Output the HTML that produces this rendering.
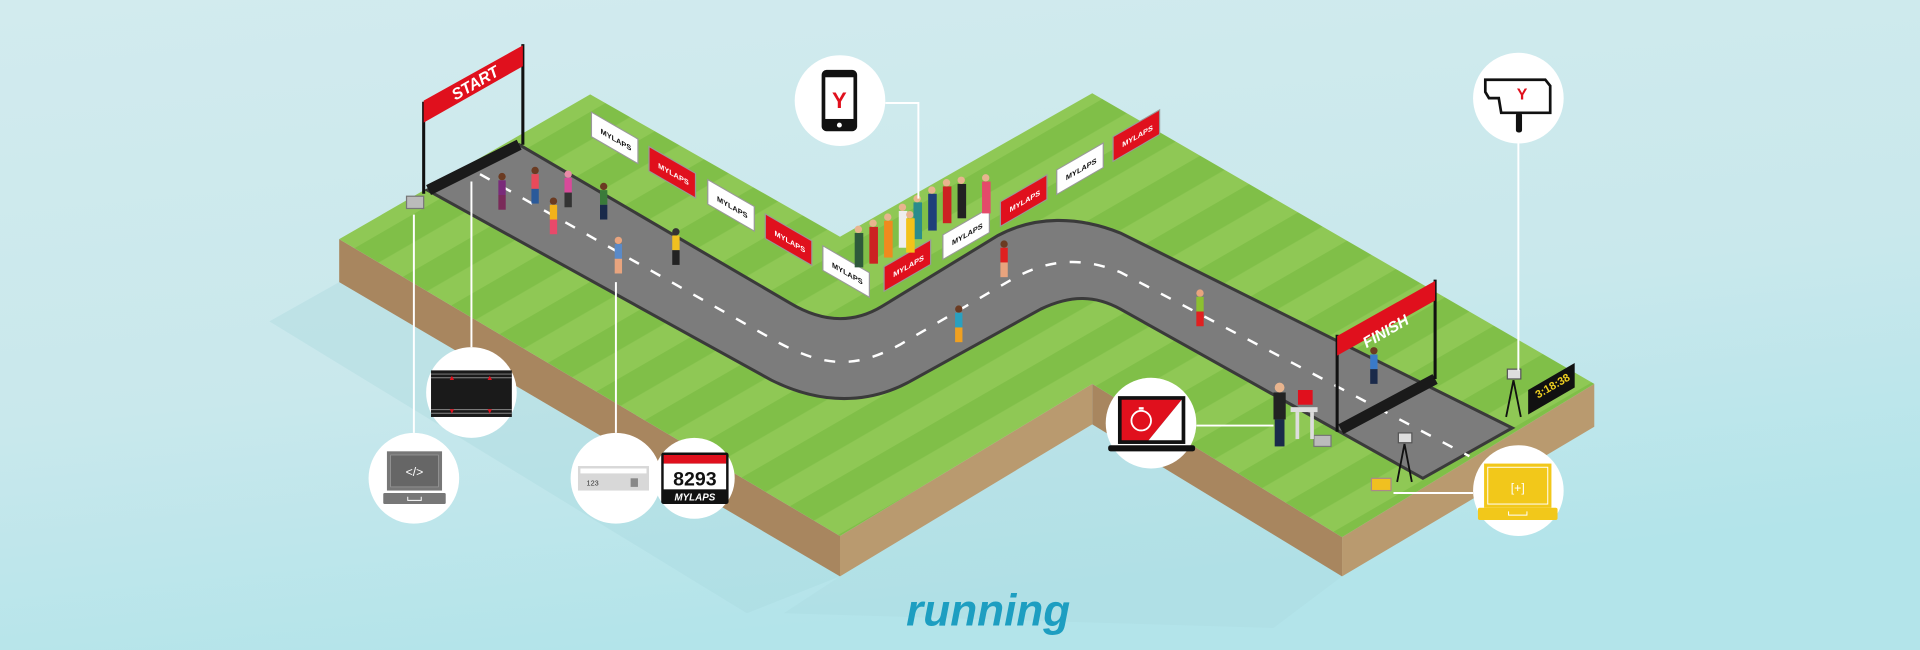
<!DOCTYPE html>
<html><head><meta charset="utf-8"><style>
html,body{margin:0;padding:0;width:1920px;height:650px;overflow:hidden;background:#cde9ec}
svg{display:block}
text{font-family:"Liberation Sans",sans-serif}
</style></head><body>
<svg width="1920" height="650" viewBox="0 0 1568 530" preserveAspectRatio="none" xmlns="http://www.w3.org/2000/svg">
<defs>
<linearGradient id="bg" x1="0" y1="0" x2="0.3" y2="1">
<stop offset="0" stop-color="#d2ebee"/><stop offset="0.6" stop-color="#c9e8ec"/><stop offset="1" stop-color="#b3e4ea"/>
</linearGradient>
<pattern id="grass" patternUnits="userSpaceOnUse" width="40" height="40" patternTransform="rotate(-30)">
<rect width="40" height="40" fill="#8fc855"/><rect width="40" height="20" fill="#80bf48"/>
</pattern>
</defs>
<rect width="1568" height="530" fill="url(#bg)"/>
<!-- shadow -->
<polygon points="277,230 220,262 610,500 686,470" fill="#a6d6dc" opacity="0.35"/>
<polygon points="686,470 640,500 1040,512 1096,470 892,346" fill="#a8d8de" opacity="0.3"/>
<!-- platform sides -->
<polygon points="277,195 686,437 686,470 277,230" fill="#a8865f"/>
<polygon points="686,437 892,313 892,346 686,470" fill="#b99a6f"/>
<polygon points="892,313 1096,438 1096,470 892,346" fill="#a8865f"/>
<polygon points="1096,438 1302,313 1302,348 1096,470" fill="#b99a6f"/>
<!-- top -->
<polygon points="277,195 482,77 686,193 892,76 1302,313 1096,438 892,313 686,437" fill="url(#grass)"/>
<!-- road -->
<path d="M424,118 L645,247 C670,262 695,265 720,250 L815,192 C845,176 880,176 915,190 L1235,349 L1162,390 L915,252 C895,241 875,240 850,252 L745,310 C710,330 670,330 630,310 L349,155 Z" fill="#7c7c7c" stroke="#3a3a3a" stroke-width="2.5"/>
<path d="M392,142 L637,280 C675,300 700,300 735,281 L826,228 C858,210 885,210 915,222 L1200,372" fill="none" stroke="#fff" stroke-width="2" stroke-dasharray="9 11"/>
<!-- start mat & gantry -->
<line x1="350" y1="155" x2="424" y2="118" stroke="#1a1a1a" stroke-width="9"/>
<line x1="346" y1="83" x2="346" y2="158" stroke="#111" stroke-width="2.5"/>
<line x1="427" y1="36" x2="427" y2="118" stroke="#111" stroke-width="2.5"/>
<polygon points="346,82 427,37 427,54 346,100" fill="#e0101d"/>
<text x="0" y="0" transform="translate(372,82) rotate(-30)" fill="#fff" font-size="13" font-weight="bold" font-style="italic">START</text>
<!-- finish mat & gantry -->
<line x1="1095" y1="350" x2="1172" y2="309" stroke="#1a1a1a" stroke-width="9"/>
<line x1="1092" y1="273" x2="1092" y2="352" stroke="#111" stroke-width="2.5"/>
<line x1="1172" y1="228" x2="1172" y2="309" stroke="#111" stroke-width="2.5"/>
<polygon points="1092,274 1172,229 1172,245 1092,290" fill="#e0101d"/>
<text x="0" y="0" transform="translate(1116,284) rotate(-30)" fill="#fff" font-size="12.5" font-weight="bold" font-style="italic">FINISH</text>
<!-- barriers -->
<g font-size="6" font-weight="bold" text-anchor="middle">
<g transform="translate(503,115) skewY(30)"><rect x="-20" y="-12" width="38" height="20" fill="#fff" stroke="#999"/><text y="1" fill="#111">MYLAPS</text></g>
<g transform="translate(550,143) skewY(30)"><rect x="-20" y="-12" width="38" height="20" fill="#e0101d" stroke="#999"/><text y="1" fill="#fff">MYLAPS</text></g>
<g transform="translate(598,170) skewY(30)"><rect x="-20" y="-12" width="38" height="20" fill="#fff" stroke="#999"/><text y="1" fill="#111">MYLAPS</text></g>
<g transform="translate(645,198) skewY(30)"><rect x="-20" y="-12" width="38" height="20" fill="#e0101d" stroke="#999"/><text y="1" fill="#fff">MYLAPS</text></g>
<g transform="translate(692,224) skewY(30)"><rect x="-20" y="-12" width="38" height="20" fill="#fff" stroke="#999"/><text y="1" fill="#111">MYLAPS</text></g>
<g transform="translate(742,218) skewY(-30)"><rect x="-20" y="-12" width="38" height="20" fill="#e0101d" stroke="#999"/><text y="1" fill="#fff">MYLAPS</text></g>
<g transform="translate(790,192) skewY(-30)"><rect x="-20" y="-12" width="38" height="20" fill="#fff" stroke="#999"/><text y="1" fill="#111">MYLAPS</text></g>
<g transform="translate(837,165) skewY(-30)"><rect x="-20" y="-12" width="38" height="20" fill="#e0101d" stroke="#999"/><text y="1" fill="#fff">MYLAPS</text></g>
<g transform="translate(883,139) skewY(-30)"><rect x="-20" y="-12" width="38" height="20" fill="#fff" stroke="#999"/><text y="1" fill="#111">MYLAPS</text></g>
<g transform="translate(929,112) skewY(-30)"><rect x="-20" y="-12" width="38" height="20" fill="#e0101d" stroke="#999"/><text y="1" fill="#fff">MYLAPS</text></g>
</g>
<!-- spectators -->
<g>
<rect x="698" y="190" width="7" height="28" fill="#2e5a3b"/><rect x="710" y="185" width="7" height="30" fill="#c22"/>
<rect x="722" y="180" width="7" height="30" fill="#f08a1e"/><rect x="734" y="172" width="7" height="30" fill="#eee"/>
<rect x="746" y="165" width="7" height="30" fill="#2a8c8c"/><rect x="758" y="158" width="7" height="30" fill="#1f3f7a"/>
<rect x="770" y="152" width="7" height="30" fill="#c22"/><rect x="782" y="150" width="7" height="28" fill="#222"/>
<rect x="802" y="148" width="7" height="26" fill="#e44a6a"/><rect x="740" y="178" width="7" height="28" fill="#f3c21a"/>
<g fill="#e8b48e"><circle cx="701" cy="187" r="3"/><circle cx="713" cy="182" r="3"/><circle cx="725" cy="177" r="3"/><circle cx="737" cy="169" r="3"/><circle cx="749" cy="162" r="3"/><circle cx="761" cy="155" r="3"/><circle cx="773" cy="149" r="3"/><circle cx="785" cy="147" r="3"/><circle cx="805" cy="145" r="3"/><circle cx="743" cy="175" r="3"/></g>
</g>
<!-- runners -->
<g>
<g transform="translate(410,150)"><circle cx="0" cy="-6" r="3" fill="#6b3b22"/><rect x="-3" y="-3" width="6" height="12" fill="#7a2a7a"/><rect x="-3" y="9" width="6" height="12" fill="#7a2a5a"/></g>
<g transform="translate(437,145)"><circle cx="0" cy="-6" r="3" fill="#6b3b22"/><rect x="-3" y="-3" width="6" height="12" fill="#e84a5a"/><rect x="-3" y="9" width="6" height="12" fill="#2a5a9a"/></g>
<g transform="translate(464,148)"><circle cx="0" cy="-6" r="3" fill="#e88aa8"/><rect x="-3" y="-3" width="6" height="12" fill="#d84a9a"/><rect x="-3" y="9" width="6" height="12" fill="#333"/></g>
<g transform="translate(452,170)"><circle cx="0" cy="-6" r="3" fill="#6b3b22"/><rect x="-3" y="-3" width="6" height="12" fill="#f3b21a"/><rect x="-3" y="9" width="6" height="12" fill="#e84a6a"/></g>
<g transform="translate(493,158)"><circle cx="0" cy="-6" r="3" fill="#6b3b22"/><rect x="-3" y="-3" width="6" height="12" fill="#3a7a3a"/><rect x="-3" y="9" width="6" height="12" fill="#1a2a4a"/></g>
<g transform="translate(505,202)"><circle cx="0" cy="-6" r="3" fill="#e8a47e"/><rect x="-3" y="-3" width="6" height="12" fill="#5a8ac8"/><rect x="-3" y="9" width="6" height="12" fill="#e8a47e"/></g>
<g transform="translate(552,195)"><circle cx="0" cy="-6" r="3" fill="#333"/><rect x="-3" y="-3" width="6" height="12" fill="#f0c020"/><rect x="-3" y="9" width="6" height="12" fill="#222"/></g>
<g transform="translate(783,258)"><circle cx="0" cy="-6" r="3" fill="#6b3b22"/><rect x="-3" y="-3" width="6" height="12" fill="#2aa0c0"/><rect x="-3" y="9" width="6" height="12" fill="#f0a020"/></g>
<g transform="translate(820,205)"><circle cx="0" cy="-6" r="3" fill="#6b3b22"/><rect x="-3" y="-3" width="6" height="12" fill="#e02020"/><rect x="-3" y="9" width="6" height="12" fill="#e8a47e"/></g>
<g transform="translate(980,245)"><circle cx="0" cy="-6" r="3" fill="#e8a47e"/><rect x="-3" y="-3" width="6" height="12" fill="#8cc030"/><rect x="-3" y="9" width="6" height="12" fill="#e02020"/></g>
<g transform="translate(1122,292)"><circle cx="0" cy="-6" r="3" fill="#6b3b22"/><rect x="-3" y="-3" width="6" height="12" fill="#3a7ac8"/><rect x="-3" y="9" width="6" height="12" fill="#1a2a4a"/></g>
</g>
<!-- equipment -->
<rect x="332" y="160" width="14" height="10" fill="#bbb" stroke="#777"/>
<rect x="1073" y="355" width="14" height="9" fill="#bbb" stroke="#777"/>
<rect x="1120" y="390" width="16" height="10" fill="#f0c020" stroke="#a88"/>
<g stroke="#111" stroke-width="1.5"><line x1="1236" y1="310" x2="1230" y2="340"/><line x1="1236" y1="310" x2="1242" y2="340"/><line x1="1147" y1="362" x2="1141" y2="393"/><line x1="1147" y1="362" x2="1153" y2="393"/></g>
<rect x="1231" y="301" width="11" height="8" fill="#ddd" stroke="#555"/>
<rect x="1142" y="353" width="11" height="8" fill="#ddd" stroke="#555"/>
<polygon points="1248,318 1286,296 1286,316 1248,338" fill="#111"/>
<text transform="translate(1256,325) rotate(-30)" fill="#f0d020" font-size="9" font-weight="bold">3:18:38</text>
<rect x="1040" y="320" width="10" height="22" fill="#222"/><rect x="1041" y="342" width="8" height="22" fill="#1a2a4a"/><circle cx="1045" cy="316" r="4" fill="#e8b48e"/>
<rect x="1054" y="332" width="22" height="4" fill="#ddd"/><rect x="1058" y="336" width="3" height="22" fill="#ddd"/><rect x="1070" y="336" width="3" height="22" fill="#ddd"/>
<rect x="1060" y="318" width="12" height="12" fill="#e0101d"/>
<!-- connectors -->
<g stroke="#fff" stroke-width="1.6" fill="none">
<polyline points="723,84 750,84 750,162"/>
<line x1="1240" y1="117" x2="1240" y2="302"/>
<line x1="385" y1="283" x2="385" y2="148"/>
<line x1="338" y1="353" x2="338" y2="175"/>
<line x1="503" y1="353" x2="503" y2="230"/>
<line x1="977" y1="347" x2="1040" y2="347"/>
<line x1="1203" y1="402" x2="1138" y2="402"/>
</g>
<!-- circles -->
<g fill="#fff">
<circle cx="686" cy="82" r="37"/><circle cx="1240" cy="80" r="37"/><circle cx="385" cy="320" r="37"/>
<circle cx="338" cy="390" r="37"/><circle cx="503" cy="390" r="37"/><circle cx="567" cy="390" r="33"/>
<circle cx="940" cy="345" r="37"/><circle cx="1240" cy="400" r="37"/>
</g>
<!-- phone icon -->
<rect x="671" y="57" width="29" height="50" rx="4" fill="#111"/><rect x="674" y="63" width="23" height="34" fill="#fff"/><circle cx="685.5" cy="102" r="2" fill="#fff"/>
<text x="685.5" y="88" text-anchor="middle" fill="#e0101d" font-size="18" font-weight="bold">Y</text>
<!-- camera icon -->
<path d="M1213,65 L1262,65 L1266,70 L1266,92 L1226,92 L1224,80 L1216,80 L1213,75 Z" fill="#fff" stroke="#111" stroke-width="2.2"/>
<rect x="1238" y="92" width="5" height="16" rx="2" fill="#111"/>
<text x="1243" y="81" text-anchor="middle" fill="#e0101d" font-size="13" font-weight="bold">Y</text>
<!-- chip mat icon -->
<rect x="352" y="302" width="66" height="38" fill="#1a1a1a"/>
<g stroke="#888" stroke-width="0.8"><line x1="352" y1="305" x2="418" y2="305"/><line x1="352" y1="308" x2="418" y2="308"/><line x1="352" y1="334" x2="418" y2="334"/><line x1="352" y1="337" x2="418" y2="337"/></g>
<g fill="#e0101d" font-size="6" text-anchor="middle"><text x="369" y="310">▲</text><text x="400" y="310">▲</text><text x="369" y="337">▼</text><text x="400" y="337">▼</text></g>
<!-- code laptop -->
<rect x="316" y="368" width="45" height="32" fill="#777"/><rect x="319" y="371" width="39" height="26" fill="#666" stroke="#999" stroke-width="0.6"/>
<text x="338.5" y="388" text-anchor="middle" fill="#fff" font-size="10">&lt;/&gt;</text>
<rect x="313" y="402" width="51" height="9" rx="1" fill="#777"/><path d="M333,405 v3 h11 v-3" stroke="#fff" fill="none" stroke-width="0.8"/>
<!-- tag -->
<rect x="472" y="380" width="58" height="20" fill="#d8d8d8"/><rect x="474" y="382" width="54" height="4" fill="#fff"/>
<text x="479" y="396" fill="#333" font-size="6">123</text><rect x="515" y="390" width="6" height="7" fill="#888"/>
<!-- bib -->
<rect x="540" y="369" width="55" height="42" rx="2" fill="#111"/><rect x="542" y="371" width="51" height="7" fill="#e0101d"/><rect x="542" y="378" width="51" height="21" fill="#fff"/>
<text x="567.5" y="396" text-anchor="middle" fill="#111" font-size="16" font-weight="bold">8293</text>
<text x="567.5" y="408" text-anchor="middle" fill="#fff" font-size="8" font-weight="bold" font-style="italic">MYLAPS</text>
<!-- red laptop -->
<rect x="913" y="323" width="55" height="39" fill="#111"/><polygon points="916,326 965,326 938,359 916,359" fill="#e0101d"/><polygon points="965,326 965,359 938,359" fill="#fff"/>
<circle cx="932" cy="343" r="8" fill="none" stroke="#fff" stroke-width="1.5"/><rect x="930" y="332" width="4" height="2" fill="#fff"/>
<rect x="905" y="363" width="71" height="5" rx="2" fill="#111"/>
<!-- yellow laptop -->
<rect x="1212" y="378" width="55" height="36" fill="#f2c81a"/><rect x="1215" y="381" width="49" height="30" fill="none" stroke="#fff" stroke-width="0.8"/>
<text x="1239.5" y="401" text-anchor="middle" fill="#fff" font-size="10">[+]</text>
<rect x="1207" y="414" width="65" height="10" rx="1.5" fill="#f2c81a"/><path d="M1232,417 v3 h15 v-3" stroke="#fff" fill="none" stroke-width="0.8"/>
<!-- title -->
<text x="807" y="510" text-anchor="middle" fill="#1d9ec1" font-size="36" font-weight="bold" font-style="italic">running</text>
</svg>
</body></html>
